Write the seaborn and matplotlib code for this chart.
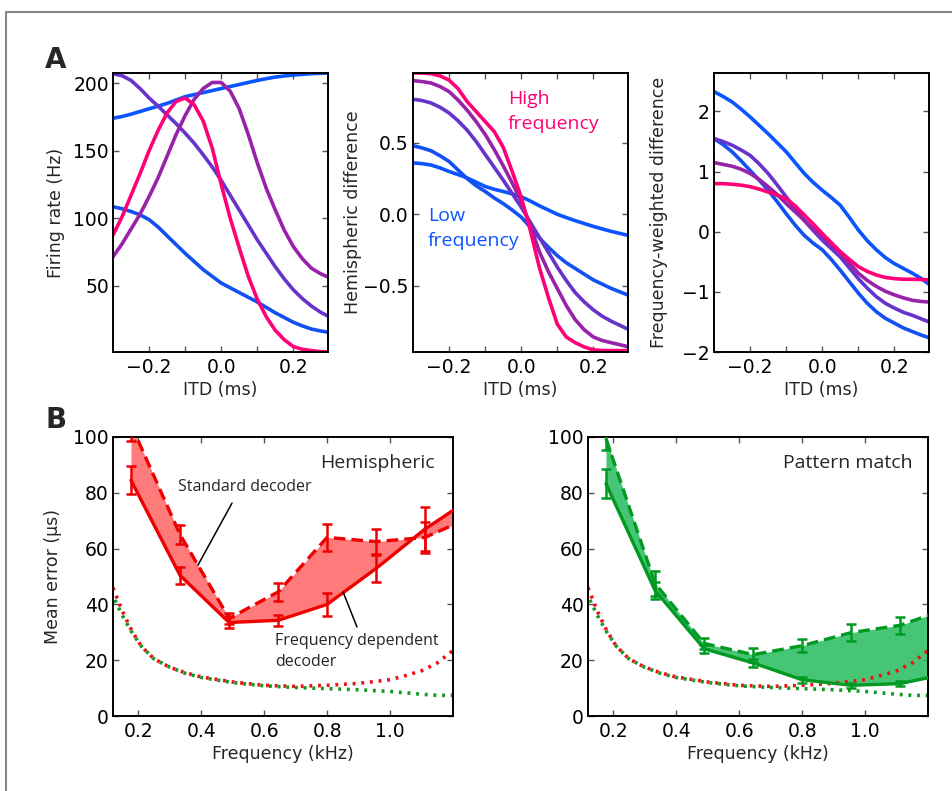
import numpy as np
import pandas as pd
import matplotlib
matplotlib.use("Agg")
import matplotlib.pyplot as plt
from matplotlib.lines import Line2D
import seaborn as sns

# ---------------- data ----------------
itd = [-0.300, -0.275, -0.250, -0.225, -0.200, -0.175, -0.150, -0.125, -0.100,
       -0.075, -0.050, -0.025, 0.000, 0.025, 0.050, 0.075, 0.100, 0.125,
       0.150, 0.175, 0.200, 0.225, 0.250, 0.275, 0.300]
curve_names = ["low1", "low2", "mid", "midhigh", "high"]
curve_colors = ["#0a55ff", "#1250f2", "#6633cc", "#9922aa", "#ff0077"]

# firing rate (Hz)
fr_low1 = [174, 175.3, 177, 179, 181, 183, 185, 187.5, 190, 191.5, 193, 194.5, 196,
           197.5, 199, 200.5, 202, 203.3, 204.5, 205.3, 206, 206.5, 207, 207.3, 207.5]
fr_low2 = [108.5, 107, 105, 102.5, 99, 93.5, 87, 80.5, 74, 68, 62, 57, 52,
           48.5, 45, 41.5, 38, 34, 30, 26.5, 23, 20.3, 18, 16.6, 15.5]
fr_mid = [207, 205.5, 202, 196, 189, 183, 176.5, 170, 163, 155.5, 147, 138, 128,
          117, 106, 95, 84, 74, 64, 55, 47, 40.5, 35, 30.5, 27]
fr_midhigh = [71.5, 81, 92, 103, 116, 130, 146, 162, 176, 188, 196, 200.5, 200.5,
              194, 181, 162, 141, 122, 106, 91, 79, 70, 63, 59, 56]
fr_high = [87.6, 101, 117, 133, 150, 165, 178, 186.5, 189, 184, 172, 152, 125,
           100, 78, 57, 40, 27, 17, 10, 5, 3, 2, 1.3, 1]

# hemispheric difference
hd_low1 = [0.36, 0.355, 0.345, 0.325, 0.30, 0.278, 0.255, 0.225, 0.195, 0.175, 0.16,
           0.143, 0.123, 0.093, 0.06, 0.03, 0.0, -0.023, -0.045, -0.065, -0.085,
           -0.103, -0.12, -0.135, -0.15]
hd_low2 = [0.48, 0.465, 0.445, 0.41, 0.37, 0.31, 0.25, 0.20, 0.16, 0.115, 0.075, 0.03,
           -0.02, -0.09, -0.165, -0.23, -0.29, -0.34, -0.38, -0.42, -0.46, -0.49,
           -0.52, -0.545, -0.57]
hd_mid = [0.806, 0.797, 0.78, 0.75, 0.71, 0.655, 0.59, 0.51, 0.42, 0.33, 0.24, 0.145,
          0.05, -0.055, -0.16, -0.265, -0.37, -0.465, -0.55, -0.615, -0.67, -0.715,
          -0.75, -0.78, -0.81]
hd_midhigh = [0.937, 0.93, 0.92, 0.895, 0.86, 0.80, 0.73, 0.65, 0.56, 0.455, 0.34,
              0.22, 0.09, -0.08, -0.26, -0.40, -0.52, -0.64, -0.74, -0.81, -0.86,
              -0.885, -0.90, -0.915, -0.93]
hd_high = [0.99, 0.99, 0.985, 0.97, 0.94, 0.88, 0.79, 0.72, 0.65, 0.58, 0.47, 0.30,
           0.12, -0.11, -0.37, -0.58, -0.77, -0.86, -0.90, -0.93, -0.95, -0.955,
           -0.955, -0.955, -0.955]

# frequency-weighted difference
fw_low1 = [2.33, 2.25, 2.16, 2.04, 1.91, 1.77, 1.63, 1.48, 1.33, 1.15, 0.97, 0.82, 0.69,
           0.57, 0.44, 0.24, 0.03, -0.15, -0.30, -0.43, -0.53, -0.61, -0.69, -0.78, -0.89]
fw_low2 = [1.55, 1.45, 1.33, 1.18, 1.02, 0.86, 0.69, 0.50, 0.30, 0.11, -0.06, -0.19,
           -0.30, -0.46, -0.64, -0.83, -1.02, -1.19, -1.33, -1.44, -1.52, -1.60,
           -1.66, -1.72, -1.77]
fw_mid = [1.55, 1.50, 1.44, 1.36, 1.27, 1.13, 0.97, 0.78, 0.58, 0.38, 0.19, 0.02,
          -0.14, -0.28, -0.42, -0.60, -0.78, -0.94, -1.08, -1.19, -1.27, -1.34,
          -1.39, -1.45, -1.51]
fw_midhigh = [1.15, 1.12, 1.09, 1.04, 0.97, 0.87, 0.75, 0.62, 0.47, 0.33, 0.19, 0.05,
              -0.08, -0.22, -0.36, -0.52, -0.69, -0.81, -0.91, -0.99, -1.05, -1.10,
              -1.14, -1.16, -1.17]
fw_high = [0.80, 0.80, 0.79, 0.775, 0.75, 0.71, 0.66, 0.61, 0.55, 0.43, 0.28, 0.13,
           -0.03, -0.18, -0.33, -0.46, -0.58, -0.66, -0.72, -0.76, -0.78, -0.79,
           -0.79, -0.795, -0.80]

# panel B
freq = [0.177, 0.333, 0.489, 0.645, 0.800, 0.956, 1.111, 1.267]
hemi_fd = [84.5, 50.4, 33.5, 34.3, 40.0, 52.9, 67.0, 78.7]
hemi_fd_err = [5.0, 3.0, 2.0, 2.0, 4.2, 4.8, 8.0, 0.0]
hemi_std = [104.5, 65.0, 35.0, 44.5, 64.0, 62.5, 64.0, 71.8]
hemi_std_err = [6.0, 3.3, 2.0, 3.3, 4.7, 4.5, 5.5, 0.0]

pm_fd = [83.3, 45.0, 24.1, 19.0, 13.0, 11.0, 11.6, 15.3]
pm_fd_err = [5.3, 3.0, 1.5, 1.5, 1.0, 1.0, 1.0, 0.0]
pm_std = [99.5, 47.5, 26.0, 22.0, 25.2, 29.9, 32.5, 38.7]
pm_std_err = [4.2, 4.5, 2.0, 2.5, 2.4, 2.9, 3.1, 0.0]

dot_freq = [0.12, 0.15, 0.18, 0.21, 0.25, 0.30, 0.35, 0.40, 0.50, 0.60, 0.70,
            0.80, 0.90, 1.00, 1.05, 1.10, 1.15, 1.20]
dot_red = [46, 37.5, 30.5, 25, 20.5, 17.5, 15.5, 14, 12.2, 11, 10.6,
           11, 11.7, 13, 14.5, 16.2, 19, 23.5]
dot_green = [43, 36, 30, 25, 20.5, 17.5, 15.3, 13.8, 12, 10.8, 10.2,
             9.8, 9.4, 8.8, 8.3, 7.8, 7.4, 7.4]

# ---------------- style ----------------
sns.set_theme(style="ticks")
plt.rcParams["font.family"] = ["DejaVu Sans"]
plt.rcParams["axes.linewidth"] = 1.4
plt.rcParams["axes.edgecolor"] = "black"

TICK_FS = 13.5
LABEL_FS = 12.5

W, H = 953, 791
fig = plt.figure(figsize=(W / 100, H / 100), dpi=100)


def ax_px(x0, y0, x1, y1):
    return fig.add_axes([x0 / W, 1 - y1 / H, (x1 - x0) / W, (y1 - y0) / H])


def style_axes(ax):
    ax.tick_params(direction="in", top=True, right=True, length=4.5, width=1.0,
                   color="#555555", labelsize=TICK_FS, labelcolor="black")
    ax.tick_params(axis="x", pad=4)
    ax.tick_params(axis="y", pad=3)
    for s in ax.spines.values():
        s.set_visible(True)
        s.set_color("black")
        s.set_linewidth(1.4)


def draw_curves(ax, series):
    df = pd.concat([pd.DataFrame({"itd": itd, "val": v, "curve": n})
                    for n, v in zip(curve_names, series)], ignore_index=True)
    sns.lineplot(data=df, x="itd", y="val", hue="curve", hue_order=curve_names,
                 palette=curve_colors, lw=2.6, legend=False, ax=ax,
                 errorbar=None, sort=True)
    ax.set_xlim(-0.3, 0.296)
    ax.set_xticks([-0.2, -0.1, 0.0, 0.1, 0.2])
    ax.set_xticklabels(["\u22120.2", "", "0.0", "", "0.2"])
    ax.set_xlabel("ITD (ms)", fontsize=LABEL_FS)
    ax.xaxis.set_label_coords(0.5, -0.104)
    style_axes(ax)


axA1 = ax_px(113, 73, 328, 352)
axA2 = ax_px(413, 73, 628, 352)
axA3 = ax_px(714, 73, 929, 352)

draw_curves(axA1, [fr_low1, fr_low2, fr_mid, fr_midhigh, fr_high])
axA1.set_ylim(1, 207.5)
axA1.set_yticks([50, 100, 150, 200])
axA1.set_yticklabels(["50", "100", "150", "200"])
axA1.set_ylabel("Firing rate (Hz)", fontsize=LABEL_FS)
axA1.yaxis.set_label_coords(-0.223, 0.5)

draw_curves(axA2, [hd_low1, hd_low2, hd_mid, hd_midhigh, hd_high])
axA2.set_ylim(-0.965, 0.99)
axA2.set_yticks([-0.5, 0.0, 0.5])
axA2.set_yticklabels(["\u22120.5", "0.0", "0.5"])
axA2.set_ylabel("Hemispheric difference", fontsize=LABEL_FS)
axA2.yaxis.set_label_coords(-0.237, 0.5)
axA2.text(0.442, 0.94, "High\nfrequency", transform=axA2.transAxes, color="#ff0077",
          fontsize=14, family="Open Sans", ha="left", va="top", linespacing=1.5)
axA2.text(0.07, 0.52, "Low\nfrequency", transform=axA2.transAxes, color="#0a55ff",
          fontsize=14, family="Open Sans", ha="left", va="top", linespacing=1.5)

draw_curves(axA3, [fw_low1, fw_low2, fw_mid, fw_midhigh, fw_high])
axA3.set_ylim(-2, 2.64)
axA3.set_yticks([-2, -1, 0, 1, 2])
axA3.set_yticklabels(["\u22122", "\u22121", "0", "1", "2"])
axA3.set_ylabel("Frequency-weighted difference", fontsize=LABEL_FS)
axA3.yaxis.set_label_coords(-0.214, 0.5)

axB1 = ax_px(113, 437, 453, 716)
axB2 = ax_px(588, 437, 928, 716)

RED = "#ee0000"
GREEN = "#009922"


def draw_B(ax, fd, fd_err, std, std_err, line_col, fill_col, fill_alpha):
    ax.fill_between(freq, fd, std, color=fill_col, alpha=fill_alpha, lw=0, zorder=1)
    sns.lineplot(x=dot_freq, y=dot_red, color="#ee1111", lw=2.6,
                 linestyle=(0, (0.8, 1.6)), ax=ax, errorbar=None, zorder=2)
    sns.lineplot(x=dot_freq, y=dot_green, color="#119922", lw=2.6,
                 linestyle=(1.2, (0.8, 1.6)), ax=ax, errorbar=None, zorder=2)
    sns.lineplot(x=freq, y=fd, color=line_col, lw=2.4, ax=ax, errorbar=None, zorder=3)
    sns.lineplot(x=freq, y=std, color=line_col, lw=2.4, linestyle=(0, (3.5, 1.8)),
                 ax=ax, errorbar=None, zorder=3)
    ax.errorbar(freq, fd, yerr=fd_err, fmt="none", ecolor=line_col, elinewidth=1.8,
                capsize=3.8, capthick=1.8, zorder=4)
    ax.errorbar(freq, std, yerr=std_err, fmt="none", ecolor=line_col, elinewidth=1.8,
                capsize=3.8, capthick=1.8, zorder=4)
    ax.set_xlim(0.12, 1.2)
    ax.set_ylim(0, 100)
    ax.set_xticks([0.2, 0.4, 0.6, 0.8, 1.0])
    ax.set_xticklabels(["0.2", "0.4", "0.6", "0.8", "1.0"])
    ax.set_yticks([0, 20, 40, 60, 80, 100])
    ax.set_yticklabels(["0", "20", "40", "60", "80", "100"])
    ax.set_xlabel("Frequency (kHz)", fontsize=LABEL_FS)
    ax.xaxis.set_label_coords(0.5, -0.105)
    ax.set_ylabel("")
    style_axes(ax)


draw_B(axB1, hemi_fd, hemi_fd_err, hemi_std, hemi_std_err, RED, "#ff5a5a", 0.8)
axB1.set_ylabel("Mean error (\u00b5s)", fontsize=LABEL_FS)
axB1.yaxis.set_label_coords(-0.15, 0.5)
axB1.text(0.947, 0.907, "Hemispheric", transform=axB1.transAxes, fontsize=14,
          family="Open Sans", ha="right", va="center")
axB1.text(0.326, 82, "Standard decoder", fontsize=11.5, family="Open Sans",
          ha="left", va="center")
axB1.plot([0.498, 0.39], [76.3, 54.1], color="black", lw=1.1, zorder=5)
axB1.text(0.635, 29.8, "Frequency dependent\ndecoder", fontsize=11.5,
          family="Open Sans", ha="left", va="top", linespacing=1.4)
axB1.plot([0.895, 0.851], [31.9, 44.4], color="black", lw=1.1, zorder=5)

draw_B(axB2, pm_fd, pm_fd_err, pm_std, pm_std_err, GREEN, "#2cbf62", 0.88)
axB2.text(0.956, 0.907, "Pattern match", transform=axB2.transAxes, fontsize=14,
          family="Open Sans", ha="right", va="center")

# panel letters
fig.text(45 / W, 1 - 68 / H, "A", fontsize=20, fontweight="bold", ha="left", va="baseline")
fig.text(46 / W, 1 - 428 / H, "B", fontsize=20, fontweight="bold", ha="left", va="baseline")

# outer frame
fig.add_artist(Line2D([6 / W, 1.0], [1 - 12 / H, 1 - 12 / H], transform=fig.transFigure,
                      color="#888888", lw=1.5))
fig.add_artist(Line2D([6 / W, 6 / W], [0.0, 1 - 12 / H], transform=fig.transFigure,
                      color="#888888", lw=1.5))

fig.savefig("out.png", dpi=100)
